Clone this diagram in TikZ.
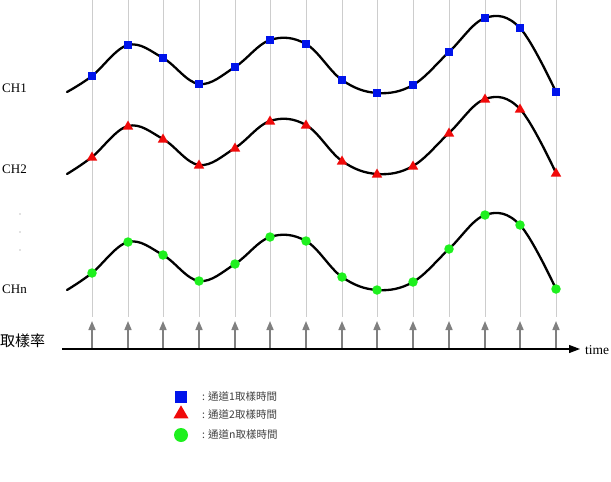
\documentclass[tikz,border=0pt]{standalone}
\usepackage{fontspec}
\setmainfont{Liberation Serif}
\newfontfamily\cjk{Noto Sans CJK TC}
\usetikzlibrary{arrows.meta,shapes.geometric,calc}
\definecolor{gridgray}{RGB}{205,205,205}
\definecolor{arrgray}{RGB}{128,128,128}
\definecolor{mblue}{RGB}{0,20,235}
\definecolor{mred}{RGB}{240,10,10}
\definecolor{mgreen}{RGB}{30,240,30}
\tikzset{
  gridline/.style={draw=gridgray,line width=0.9pt},
  samparrow/.style={draw=arrgray,line width=1.6pt,-{Triangle[length=9pt,width=7pt]}},
  axisline/.style={draw=black,line width=1.2pt,-{Stealth[length=11pt,width=8pt,inset=0pt]}},
  signal/.style={draw=black,line width=2.3pt,line cap=round},
  sqmark/.style={rectangle,fill=mblue,minimum size=8.5pt,inner sep=0pt},
  trimark/.style={isosceles triangle,isosceles triangle apex angle=60,shape border rotate=90,fill=mred,minimum size=9pt,inner sep=0pt},
  cirmark/.style={circle,fill=mgreen,minimum size=9.5pt,inner sep=0pt},
  chlabel/.style={font=\fontsize{13}{15}\selectfont,anchor=west,inner sep=0pt},
  legtext/.style={font=\cjk\fontsize{10.5}{12}\selectfont,anchor=west,inner sep=0pt,text=black!75}
}
\begin{document}
\begin{tikzpicture}[x=1pt,y=-1pt]
\useasboundingbox (0,0) rectangle (611,482);
% sample positions
\def\xs{92,128,163,199,235,270,306,342,377,413,449,485,520,556}
% grid lines and sampling arrows
\foreach \x [count=\i] in \xs {
  \coordinate (gt\i) at (\x,0);
  \coordinate (gb\i) at (\x,317);
  \coordinate (ab\i) at (\x,349);
  \coordinate (at\i) at (\x,321);
  \draw[gridline] (gt\i) -- (gb\i);
  \draw[samparrow] (ab\i) -- (at\i);
}
% time axis
\coordinate (ax0) at (62,349);
\coordinate (ax1) at (580,349);
\draw[axisline] (ax0) -- (ax1);
\node[chlabel,font=\fontsize{13.5}{15}\selectfont] (time) at (585,350) {time};
\node[chlabel,font=\cjk\fontsize{15}{17}\selectfont] (rate) at (0,341) {取樣率};
% labels
\node[chlabel] (l1) at (2,88) {CH1};
\node[chlabel] (l2) at (2,169) {CH2};
\node[chlabel] (ln) at (2,289) {CHn};
\node[circle,fill=arrgray,inner sep=0pt,minimum size=1.3pt] (d1) at (20,214) {};
\node[circle,fill=arrgray,inner sep=0pt,minimum size=1.3pt] (d2) at (20,232) {};
\node[circle,fill=arrgray,inner sep=0pt,minimum size=1.3pt] (d3) at (20,250) {};
% channel points
\coordinate (a0) at (67,92);
\foreach \x/\y [count=\i] in {92/76,128/45,163/58,199/84,235/67,270/40,306/44,342/80,377/93,413/85,449/52,485/18,520/28,556/92}{
  \coordinate (a\i) at (\x,\y);
  \coordinate (b\i) at (\x,\y+81);
  \coordinate (c\i) at (\x,\y+197);
}
\coordinate (b0) at (67,174);
\coordinate (c0) at (67,290);
\draw[signal] plot[smooth,tension=0.62] coordinates {(a0) (a1) (a2) (a3) (a4) (a5) (a6) (a7) (a8) (a9) (a10) (a11) (a12) (a13) (a14)};
\draw[signal] plot[smooth,tension=0.62] coordinates {(b0) (b1) (b2) (b3) (b4) (b5) (b6) (b7) (b8) (b9) (b10) (b11) (b12) (b13) (b14)};
\draw[signal] plot[smooth,tension=0.62] coordinates {(c0) (c1) (c2) (c3) (c4) (c5) (c6) (c7) (c8) (c9) (c10) (c11) (c12) (c13) (c14)};
\foreach \i in {1,...,14}{
  \node[sqmark] (s\i) at (a\i) {};
  \node[trimark] (t\i) at ($(b\i)+(0,0.5)$) {};
  \node[cirmark] (g\i) at (c\i) {};
}
% legend
\node[rectangle,fill=mblue,minimum size=12pt,inner sep=0pt] (ls) at (181,397) {};
\node[isosceles triangle,isosceles triangle apex angle=60,shape border rotate=90,fill=mred,minimum size=13pt,inner sep=0pt] (lt) at (181,414) {};
\node[circle,fill=mgreen,minimum size=14pt,inner sep=0pt] (lc) at (181,435) {};
\node[legtext] (lst) at (202,397) {: 通道1取樣時間};
\node[legtext] (ltt) at (202,415) {: 通道2取樣時間};
\node[legtext] (lct) at (202,435) {: 通道n取樣時間};
\end{tikzpicture}
\end{document}
